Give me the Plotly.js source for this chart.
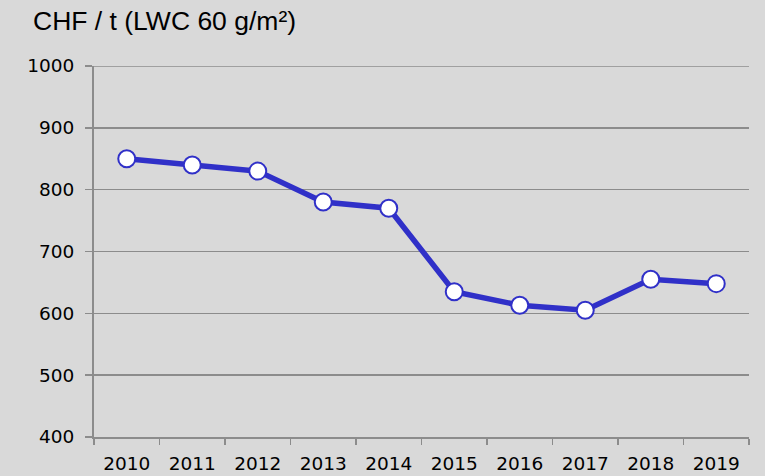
<!DOCTYPE html>
<html><head><meta charset="utf-8">
<script src="https://cdn.plot.ly/plotly-3.0.1.min.js"></script>
<style>body{margin:0;padding:0;background:#d9d9d9}#chart{width:765px;height:476px}</style>
</head><body><div id="chart"></div>
<script>
const years = ['2010','2011','2012','2013','2014','2015','2016','2017','2018','2019'];
const prices = [850, 840, 830, 780, 770, 635, 613, 605, 655, 648];
const yTicks = [400, 500, 600, 700, 800, 900, 1000];
const titleText = 'CHF / t (LWC 60 g/m²)';

const trace = {
  x: years, y: prices, type: 'scatter', mode: 'lines+markers',
  line: {color: '#3030c8', width: 5.5},
  marker: {size: 17, color: '#ffffff', line: {color: '#3030c8', width: 2}},
  cliponaxis: false, hoverinfo: 'skip'
};
const layout = {
  width: 765, height: 476,
  paper_bgcolor: '#d9d9d9', plot_bgcolor: '#d9d9d9',
  margin: {l: 94, r: 16, t: 66, b: 39},
  showlegend: false,
  font: {family: 'DejaVu Sans', size: 18.5, color: '#000000'},
  title: {text: titleText, x: 33/765, xanchor: 'left', xref: 'container', y: 1 - 21/476, yanchor: 'middle', yref: 'container',
          font: {family: 'Liberation Sans', size: 26.5, color: '#000000'}},
  xaxis: {type: 'category', tickson: 'boundaries', ticks: 'outside', ticklen: 6, tickwidth: 1.5,
          tickcolor: '#8c8c8c', showline: true, linecolor: '#8c8c8c', linewidth: 2, showgrid: false,
          ticklabelstandoff: 9,
          tickfont: {family: 'DejaVu Sans', size: 18.5, color: '#000000'}, range: [-0.5, 9.5]},
  yaxis: {range: [400, 1000], tickvals: yTicks, ticks: 'outside', ticklen: 7, tickwidth: 1.5,
          tickcolor: '#8c8c8c', showline: true, linecolor: '#8c8c8c', linewidth: 2,
          showgrid: true, gridcolor: '#8c8c8c', gridwidth: 1.5, zeroline: false,
          ticklabelstandoff: 7,
          tickfont: {family: 'DejaVu Sans', size: 18.5, color: '#000000'}},
  shapes: [{type: 'line', xref: 'paper', yref: 'y', x0: 0, x1: 1, y0: yTicks[yTicks.length - 1], y1: yTicks[yTicks.length - 1],
            line: {color: '#8c8c8c', width: 1.5}, layer: 'below'}]
};
Plotly.newPlot('chart', [trace], layout, {staticPlot: true, displayModeBar: false});
</script></body></html>
